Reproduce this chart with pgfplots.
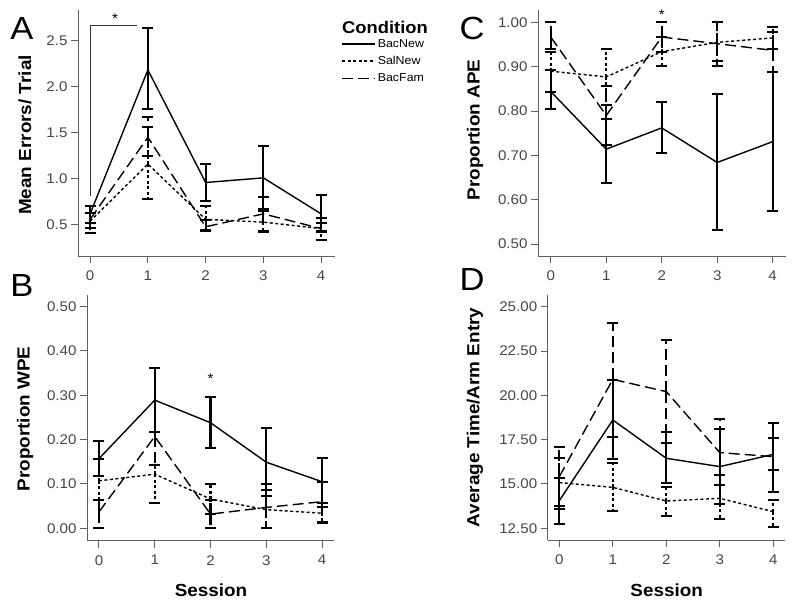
\documentclass[border=0pt]{standalone}
\usepackage{pgfplots}
\usepackage{pgfplotstable}
\pgfplotsset{compat=1.18}
\usepackage{fontspec}
\setmainfont{Liberation Sans}[FakeStretch=1.08]

% columns: x, mean, lower CI, upper CI
% Panel A: Mean Errors/Trial
\pgfplotstableread{
x y lo hi
0 0.62 0.52 0.71
1 2.18 1.76 2.63
2 0.96 0.76 1.16
3 1.01 0.67 1.36
4 0.62 0.43 0.82
}\AbacNew
\pgfplotstableread{
x y lo hi
0 0.54 0.41 0.63
1 1.16 0.78 1.56
2 0.56 0.44 0.70
3 0.53 0.42 0.65
4 0.46 0.34 0.57
}\AsalNew
\pgfplotstableread{
x y lo hi
0 0.56 0.47 0.63
1 1.45 1.25 1.67
2 0.48 0.43 0.55
3 0.62 0.43 0.80
4 0.46 0.42 0.52
}\AbacFam
% Panel B: Proportion WPE
\pgfplotstableread{
x y lo hi
0 0.157 0.117 0.197
1 0.289 0.218 0.361
2 0.238 0.182 0.295
3 0.149 0.072 0.226
4 0.105 0.049 0.159
}\BbacNew
\pgfplotstableread{
x y lo hi
0 0.107 0.064 0.156
1 0.122 0.058 0.143
2 0.066 0.033 0.099
3 0.042 0.000 0.086
4 0.034 0.011 0.058
}\BsalNew
\pgfplotstableread{
x y lo hi
0 0.037 0.000 0.064
1 0.207 0.143 0.218
2 0.032 0.000 0.064
3 0.047 0.000 0.099
4 0.060 0.015 0.105
}\BbacFam
% Panel C: Proportion APE
\pgfplotstableread{
x y lo hi
0 0.844 0.805 0.893
1 0.714 0.638 0.783
2 0.762 0.706 0.820
3 0.684 0.532 0.838
4 0.731 0.575 0.889
}\CbacNew
\pgfplotstableread{
x y lo hi
0 0.890 0.844 0.940
1 0.877 0.813 0.941
2 0.934 0.902 0.966
3 0.955 0.914 1.000
4 0.965 0.940 0.990
}\CsalNew
\pgfplotstableread{
x y lo hi
0 0.967 0.934 1.000
1 0.790 0.724 0.856
2 0.967 0.934 1.000
3 0.952 0.902 1.000
4 0.937 0.889 0.979
}\CbacFam
% Panel D: Average Time/Arm Entry
\pgfplotstableread{
x y lo hi
0 14.06 12.73 15.32
1 18.61 16.39 20.87
2 16.45 15.04 17.91
3 15.98 13.85 18.08
4 16.67 14.57 18.42
}\DbacNew
\pgfplotstableread{
x y lo hi
0 15.08 13.57 16.45
1 14.81 13.50 16.20
2 14.04 13.20 14.85
3 14.19 13.00 15.50
4 13.44 12.56 14.10
}\DsalNew
\pgfplotstableread{
x y lo hi
0 15.41 13.75 17.07
1 20.90 17.65 24.10
2 20.21 17.33 23.12
3 16.77 14.94 18.65
4 16.54 15.79 17.58
}\DbacFam

\pgfplotsset{
  panel/.style={
    scale only axis, axis lines=left,
    axis line style={-, gray!75!black, line width=0.9pt},
    tick align=outside, major tick length=7pt,
    tick style={gray!75!black, line width=1pt},
    xtick={0,1,2,3,4}, clip=false,
    ticklabel style={font=\fontsize{14}{16}\selectfont, text=gray!55!black},
    xticklabel style={yshift=-4pt},
    /pgf/number format/assume math mode=true,
    yticklabel style={/pgf/number format/.cd, fixed, fixed zerofill, precision=2},
  },
  ser/.style={black, line width=1.4pt, no markers,
    error bars/y dir=both, error bars/y explicit,
    error bars/error bar style={line width=2.2pt},
    error bars/error mark options={rotate=90, mark size=5.5pt, line width=2pt, solid, black}},
  salpat/.style={dash pattern=on 3pt off 2.5pt},
  fampat/.style={dash pattern=on 11pt off 5pt},
  /pgfplots/table/tbl/.style={x=x, y=y,
    y error plus expr=\thisrow{hi}-\thisrow{y},
    y error minus expr=\thisrow{y}-\thisrow{lo}},
}

\begin{document}
\begin{tikzpicture}[x=1pt, y=1pt]
\useasboundingbox (0,0) rectangle (800,611);

% ---------------- Panel A
\begin{axis}[panel, at={(78pt,355pt)}, anchor=south west, width=257pt, height=246pt,
  xmin=-0.21, xmax=4.24, ymin=0.163, ymax=2.83,
  ytick={0.5,1.0,1.5,2.0,2.5},
  yticklabel style={/pgf/number format/.cd, fixed, fixed zerofill, precision=1},
  legend style={at={(1.024,0.89)}, anchor=north west, draw=none, fill=none,
    inner sep=0pt, font=\fontsize{11.5}{13}\selectfont, row sep=3.5pt,
    cells={anchor=west, inner xsep=0.5pt}},
  legend image code/.code={\draw[#1, line width=1.4pt] (0pt,0pt) -- (33pt,0pt);}]
\addplot[ser] table[tbl] {\AbacNew};
\addlegendentry{BacNew}
\addplot[ser, salpat] table[tbl] {\AsalNew};
\addlegendentry{SalNew}
\addplot[ser, fampat] table[tbl] {\AbacFam};
\addlegendentry{BacFam}
\draw[line width=0.8pt, black!80] (axis cs:0,0.81) -- (axis cs:0,2.66) -- (axis cs:0.81,2.66);
\node[font=\fontsize{14}{16}\selectfont] at (axis cs:0.43,2.74) {*};
\end{axis}

% ---------------- Panel B
\begin{axis}[panel, at={(87pt,70.3pt)}, anchor=south west, width=247pt, height=245.7pt,
  xmin=-0.215, xmax=4.215, ymin=-0.028, ymax=0.526,
  ytick={0,0.1,0.2,0.3,0.4,0.5}]
\addplot[ser] table[tbl] {\BbacNew};
\addplot[ser, salpat] table[tbl] {\BsalNew};
\addplot[ser, fampat] table[tbl] {\BbacFam};
\node[font=\fontsize{14}{16}\selectfont] at (axis cs:2,0.338) {*};
\end{axis}

% ---------------- Panel C
\begin{axis}[panel, at={(538pt,355pt)}, anchor=south west, width=248pt, height=246pt,
  xmin=-0.23, xmax=4.24, ymin=0.473, ymax=1.028,
  ytick={0.5,0.6,0.7,0.8,0.9,1.0}]
\addplot[ser] table[tbl] {\CbacNew};
\addplot[ser, salpat] table[tbl] {\CsalNew};
\addplot[ser, fampat] table[tbl] {\CbacFam};
\node[font=\fontsize{14}{16}\selectfont] at (axis cs:2,1.017) {*};
\end{axis}

% ---------------- Panel D
\begin{axis}[panel, at={(547.7pt,71pt)}, anchor=south west, width=237.3pt, height=245pt,
  xmin=-0.217, xmax=4.22, ymin=11.84, ymax=25.66,
  ytick={12.5,15,17.5,20,22.5,25}]
\addplot[ser] table[tbl] {\DbacNew};
\addplot[ser, salpat] table[tbl] {\DsalNew};
\addplot[ser, fampat] table[tbl] {\DbacFam};
\end{axis}

% panel letters
\node[font=\fontsize{32}{34}\selectfont] at (22,583) {A};
\node[font=\fontsize{32}{34}\selectfont] at (22,326) {B};
\node[font=\fontsize{32}{34}\selectfont] at (472,583) {C};
\node[font=\fontsize{32}{34}\selectfont] at (472,332) {D};

% axis titles
\node[rotate=90, font=\bfseries\fontsize{17.5}{20}\selectfont] at (25,476) {Mean Errors/ Trial};
\node[rotate=90, font=\bfseries\fontsize{17.5}{20}\selectfont] at (25,192) {Proportion WPE};
\node[rotate=90, font=\bfseries\fontsize{17.5}{20}\selectfont] at (475,481) {Proportion APE};
\node[rotate=90, font=\bfseries\fontsize{17.5}{20}\selectfont] at (475,193.5) {Average Time/Arm Entry};
\node[font=\bfseries\fontsize{17.5}{20}\selectfont] at (211,21) {Session};
\node[font=\bfseries\fontsize{17.5}{20}\selectfont] at (666.7,21) {Session};

% legend title
\node[font=\bfseries\fontsize{17}{19}\selectfont] at (385,584) {Condition};
\end{tikzpicture}
\end{document}
